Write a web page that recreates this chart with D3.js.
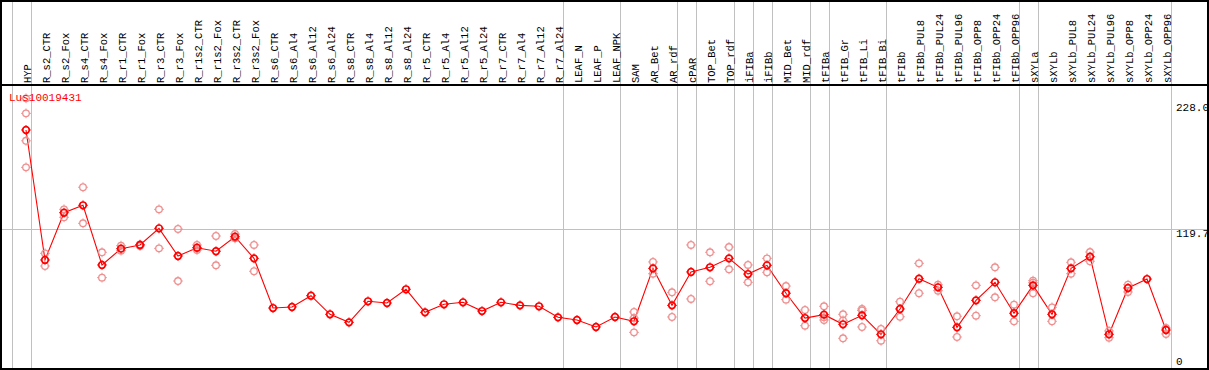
<!DOCTYPE html>
<html><head><meta charset="utf-8">
<script src="https://cdn.jsdelivr.net/npm/d3@7"></script>
<style>html,body{margin:0;padding:0;background:#fff;overflow:hidden}</style>
</head><body>
<script>
const categories = ["HYP","R_s2_CTR","R_s2_Fox","R_s4_CTR","R_s4_Fox","R_r1_CTR","R_r1_Fox","R_r3_CTR","R_r3_Fox","R_r1s2_CTR","R_r1s2_Fox","R_r3s2_CTR","R_r3s2_Fox","R_s6_CTR","R_s6_Al4","R_s6_Al12","R_s6_Al24","R_s8_CTR","R_s8_Al4","R_s8_Al12","R_s8_Al24","R_r5_CTR","R_r5_Al4","R_r5_Al12","R_r5_Al24","R_r7_CTR","R_r7_Al4","R_r7_Al12","R_r7_Al24","LEAF_N","LEAF_P","LEAF_NPK","SAM","AR_Bet","AR_rdf","cPAR","TOP_Bet","TOP_rdf","iFIBa","iFIBb","MID_Bet","MID_rdf","tFIBa","tFIB_Gr","tFIB_Li","tFIB_Bi","tFIBb","tFIBb_PUL8","tFIBb_PUL24","tFIBb_PUL96","tFIBb_OPP8","tFIBb_OPP24","tFIBb_OPP96","sXYLa","sXYLb","sXYLb_PUL8","sXYLb_PUL24","sXYLb_PUL96","sXYLb_OPP8","sXYLb_OPP24","sXYLb_OPP96"];

const meanValues = [204.8,93.1,133.7,140.1,88.8,102.8,106.0,120.3,96.5,103.6,100.6,113.1,94.5,51.8,52.7,62.4,46.4,39.5,57.6,56.1,67.9,48.1,55.0,56.7,49.2,56.7,54.1,53.3,43.8,41.5,35.5,44.1,40.4,85.9,54.1,82.8,86.8,94.5,81.0,88.5,64.5,43.2,46.1,37.8,45.5,29.2,51.0,77.0,69.6,35.2,58.4,73.9,47.3,71.3,46.4,85.9,95.9,29.2,69.0,76.7,32.9];

const replicateValues = [
  [232.0,219.1,195.5,172.7],[98.8,87.9],[136.6,129.8],[155.6,124.6],[99.7,77.9],
  [105.4,101.1],[106.4,105.1],[136.6,103.1],[119.7,75.0],[106.0,101.7],
  [113.7,88.5],[115.4,111.7],[106.0,83.4],[],[],
  [],[],[],[],[],
  [],[],[],[],[],
  [],[],[],[],[],
  [],[],[48.4,43.2,30.9],[91.4,81.3],[65.3,44.1],
  [106.0,59.6],[99.7,74.8],[104.2,85.1],[88.8,73.9],[94.5,82.5],
  [70.7,59.0],[50.1,36.6],[53.3,43.8,41.5],[46.4,25.8,41.2],[51.0,49.7,35.5],
  [33.8,23.7],[57.2,44.3],[90.2,64.5],[71.8,66.7],[44.7,26.9],
  [71.3,45.2],[86.8,61.0],[54.7,40.4],[75.3,73.6,64.5],[52.4,40.4],
  [91.1,81.3],[99.9,92.0],[32.1,26.3],[71.8,65.6],[],
  [34.6,29.5]
];

const yTicks = [0, 119.7, 228.0];
const yTickLabels = ["0", "119.7", "228.0"];
const groupEnds = ["HYP","R_r7_Al24","LEAF_NPK","AR_rdf","cPAR","TOP_rdf","iFIBa","iFIBb","MID_rdf","tFIBa","tFIB_Bi","tFIBb_OPP96","sXYLa","sXYLb_OPP96"];
const chartTitle = "Lus10019431";

const W = 1209, H = 370;
const headerBottom = 85, plotBottom = 369;
const svg = d3.select("body").append("svg").attr("width", W).attr("height", H)
  .style("font-family", "'Liberation Mono', 'DejaVu Sans Mono', monospace");

const x = d3.scalePoint().domain(categories).range([26, 1166]);
const step = x.step();
const y = d3.scaleLinear().domain([0, 228]).range([368.3, 103]);

const grid = svg.append("g").attr("stroke", "#c0c0c0").attr("stroke-width", 1).attr("shape-rendering", "crispEdges");
const sepX = [x(categories[0]) - step * 0.75].concat(groupEnds.map(c => x(c) + step * 0.25));
grid.selectAll("line.v").data(sepX).join("line")
  .attr("x1", d => Math.round(d) + 0.5).attr("x2", d => Math.round(d) + 0.5)
  .attr("y1", 0).attr("y2", plotBottom);
grid.selectAll("line.h").data(yTicks.filter(t => t > 0 && t < 228)).join("line")
  .attr("x1", 1).attr("x2", 1207)
  .attr("y1", d => Math.round(y(d)) + 0.5).attr("y2", d => Math.round(y(d)) + 0.5);

// header labels
svg.append("g").selectAll("text").data(categories).join("text")
  .attr("transform", d => `translate(${x(d) + 4.5},83) rotate(-90)`)
  .attr("font-size", 10.5).attr("fill", "#000").text(d => d);

// y tick labels
svg.append("g").selectAll("text").data(yTicks).join("text")
  .attr("x", 1176)
  .attr("y", d => d === 0 ? y(d) - 3.5 : y(d) + 7.5)
  .attr("font-size", 11).attr("fill", "#000")
  .text((d, i) => yTickLabels[i]);

// frame
const frame = svg.append("g").attr("stroke", "#000").attr("stroke-width", 2).attr("fill", "none").attr("shape-rendering", "crispEdges");
frame.append("line").attr("x1", 0).attr("x2", W).attr("y1", 1).attr("y2", 1);
frame.append("line").attr("x1", 0).attr("x2", W).attr("y1", headerBottom).attr("y2", headerBottom);
frame.append("line").attr("x1", 0).attr("x2", W).attr("y1", plotBottom).attr("y2", plotBottom);
frame.append("line").attr("x1", 1).attr("x2", 1).attr("y1", 0).attr("y2", H);
frame.append("line").attr("x1", 1208).attr("x2", 1208).attr("y1", 0).attr("y2", H);

// mean line
svg.append("path")
  .datum(categories.map((c, i) => [x(c), y(meanValues[i])]))
  .attr("fill", "none").attr("stroke", "#ff0000").attr("stroke-width", 1.1)
  .attr("d", d3.line());

function marker(g, cx, cy, color, sw) {
  const r = 3.3;
  g.append("circle").attr("cx", cx).attr("cy", cy).attr("r", r)
    .attr("fill", "none").attr("stroke", color).attr("stroke-width", sw);
  [[0,-1],[0,1],[-1,0],[1,0]].forEach(([dx, dy]) => {
    g.append("line").attr("x1", cx + dx * r).attr("y1", cy + dy * r)
      .attr("x2", cx + dx * (r + 1.6)).attr("y2", cy + dy * (r + 1.6))
      .attr("stroke", color).attr("stroke-width", 1);
  });
}

const reps = svg.append("g");
categories.forEach((c, i) => {
  replicateValues[i].forEach(v => marker(reps, x(c), y(v), "#ee9090", 1.3));
});
const means = svg.append("g");
categories.forEach((c, i) => marker(means, x(c), y(meanValues[i]), "#ff0000", 1.7));

// title
svg.append("text").attr("x", 9).attr("y", 101).attr("font-size", 11)
  .attr("fill", "#ff0000").text(chartTitle);
</script>
</body></html>
